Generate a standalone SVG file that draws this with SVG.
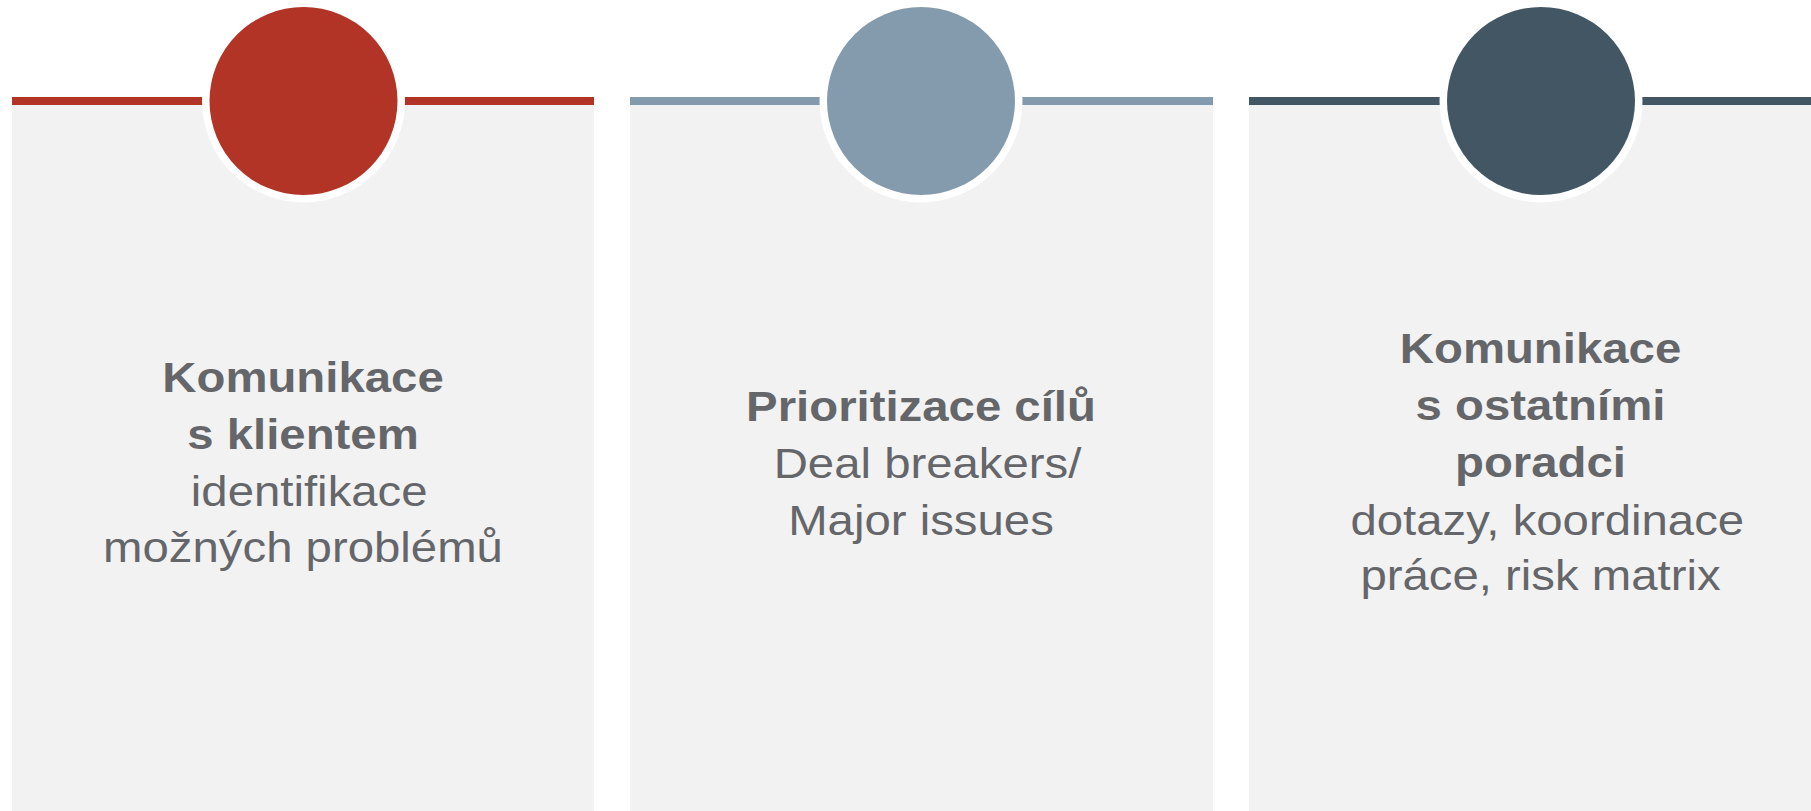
<svg xmlns="http://www.w3.org/2000/svg" width="1811" height="811" viewBox="0 0 1811 811">
  <style>
    .panel { fill: #F2F2F2; }
    .ring { fill: #FFFFFF; }
    .t { font-family: "Liberation Sans", Arial, sans-serif; font-size: 42px; fill: #65666A; text-anchor: middle; }
    .b { font-weight: bold; }
    .red { fill: #B13427; }
    .blue { fill: #849BAD; }
    .dark { fill: #435663; }
  </style>
  <rect x="0" y="0" width="1811" height="811" fill="#FFFFFF"/>

  <g id="node-1">
    <rect class="panel" x="12" y="97" width="582" height="714"/>
    <rect class="red" x="12" y="97" width="582" height="8"/>
    <circle class="ring" cx="303.5" cy="101" r="101.5"/>
    <circle class="red" cx="303.5" cy="101" r="94"/>
    <g transform="translate(303,0) scale(1.127,1)">
      <text class="t b" x="0" y="392.5">Komunikace</text>
      <text class="t b" x="0" y="449.5">s klientem</text>
      <text class="t" x="5.5" y="506.5">identifikace</text>
      <text class="t" x="0" y="562.5">možných problémů</text>
    </g>
  </g>

  <g id="node-2">
    <rect class="panel" x="630" y="97" width="583" height="714"/>
    <rect class="blue" x="630" y="97" width="583" height="8"/>
    <circle class="ring" cx="921" cy="101" r="101.5"/>
    <circle class="blue" cx="921" cy="101" r="94"/>
    <g transform="translate(921,0) scale(1.127,1)">
      <text class="t b" x="0" y="421.5">Prioritizace cílů</text>
      <text class="t" x="5.8" y="478.5">Deal breakers/</text>
      <text class="t" x="0" y="535">Major issues</text>
    </g>
  </g>

  <g id="node-3">
    <rect class="panel" x="1249" y="97" width="582" height="714"/>
    <rect class="dark" x="1249" y="97" width="582" height="8"/>
    <circle class="ring" cx="1541" cy="101" r="101.5"/>
    <circle class="dark" cx="1541" cy="101" r="94"/>
    <g transform="translate(1540.5,0) scale(1.127,1)">
      <text class="t b" x="0" y="363.5">Komunikace</text>
      <text class="t b" x="0" y="420">s ostatními</text>
      <text class="t b" x="0" y="477">poradci</text>
      <text class="t" x="6" y="535">dotazy, koordinace</text>
      <text class="t" x="0" y="590">práce, risk matrix</text>
    </g>
  </g>

  <g id="connectors"></g>
</svg>
